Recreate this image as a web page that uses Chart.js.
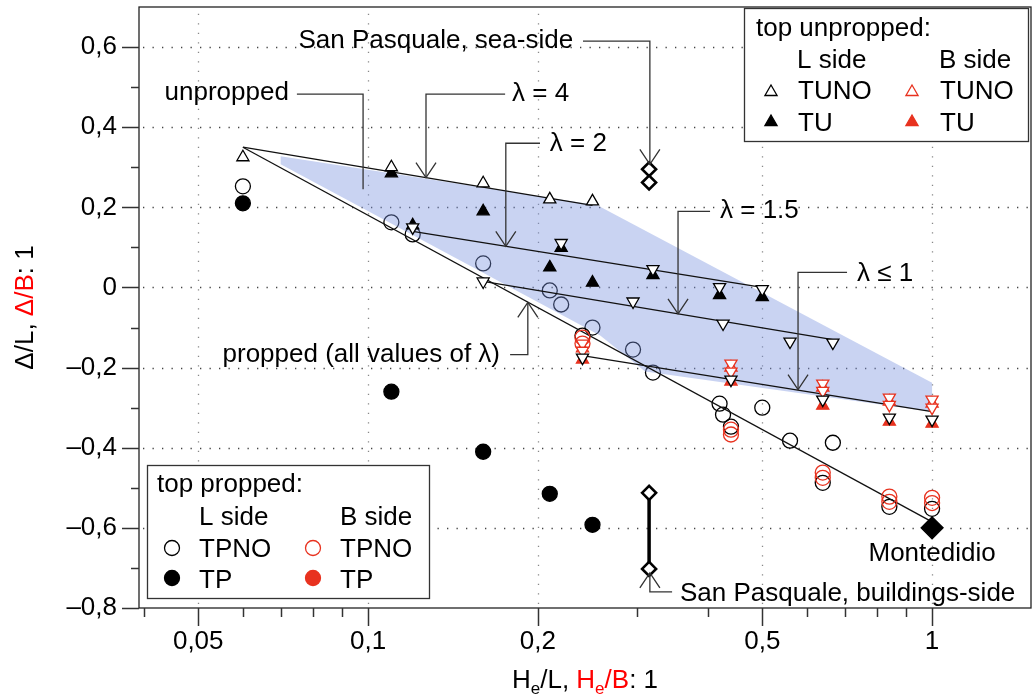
<!DOCTYPE html>
<html>
<head>
<meta charset="utf-8">
<script src="https://cdn.jsdelivr.net/npm/chart.js@4.4.0/dist/chart.umd.min.js"></script>
<style>
  html, body { margin: 0; padding: 0; background: #fff; }
  #wrap { width: 1032px; height: 695px; }
</style>
</head>
<body>
<div id="wrap"><canvas id="chart" width="1032" height="695"></canvas></div>
<script>
// Settlement ratio chart

// top unpropped, L side
const tunoLX = [0.06, 0.11, 0.16, 0.21, 0.25];
const tunoLY = [0.325, 0.30, 0.26, 0.22, 0.215];
const tuLX = [0.11, 0.12, 0.16, 0.21, 0.22, 0.25, 0.32, 0.42, 0.5];
const tuLY = [0.285, 0.155, 0.19, 0.05, 0.099, 0.012, 0.031, -0.019, -0.024];

// model points (inverted triangles)
const modelLX = [0.12, 0.16, 0.22, 0.24, 0.295, 0.32, 0.42, 0.426, 0.44, 0.5, 0.56, 0.64, 0.667, 0.84, 1];
const modelLY = [0.15, 0.015, 0.111, -0.175, -0.035, 0.046, 0.001, -0.09, -0.23, -0.004, -0.135, -0.28, -0.1375, -0.325, -0.33];
const modelBX = [0.24, 0.24, 0.44, 0.44, 0.64, 0.64, 0.84, 0.84, 1, 1];
const modelBY = [-0.14, -0.158, -0.19, -0.21, -0.24, -0.258, -0.275, -0.293, -0.28, -0.30];

// top unpropped, B side
const tunoBX = [0.24, 0.44, 0.64, 0.84, 1];
const tunoBY = [-0.152, -0.2, -0.25, -0.285, -0.29];
const tuBX = [0.24, 0.44, 0.64, 0.84, 1];
const tuBY = [-0.18, -0.235, -0.295, -0.335, -0.34];

// top propped
const tpnoLX = [0.06, 0.11, 0.12, 0.16, 0.21, 0.22, 0.24, 0.25, 0.295, 0.32, 0.42, 0.426, 0.44, 0.5, 0.56, 0.64, 0.667, 0.84, 1];
const tpnoLY = [0.2525, 0.1625, 0.1325, 0.06, -0.0075, -0.0425, -0.12, -0.10, -0.155, -0.2125, -0.29, -0.3175, -0.3475, -0.30, -0.3825, -0.4875, -0.3875, -0.5475, -0.5525];
const tpLX = [0.06, 0.11, 0.16, 0.21, 0.25];
const tpLY = [0.21, -0.26, -0.41, -0.515, -0.5925];
const tpnoBX = [0.24, 0.24, 0.44, 0.44, 0.64, 0.64, 0.84, 0.84, 1, 1];
const tpnoBY = [-0.125, -0.14, -0.355, -0.367, -0.462, -0.475, -0.522, -0.535, -0.525, -0.538];

// field cases
const seaX = [0.315, 0.315];
const seaY = [0.295, 0.262];
const bldX = [0.315, 0.315];
const bldY = [-0.5125, -0.7025];
const monteX = [1];
const monteY = [-0.6];

// model lines
const lam4X = [0.06, 0.25];
const lam4Y = [0.35, 0.205];
const lam2X = [0.12, 0.5];
const lam2Y = [0.14, 0.0];
const lam15X = [0.16, 0.667];
const lam15Y = [0.015, -0.13];
const lam1X = [0.24, 1];
const lam1Y = [-0.17, -0.31];
const proppedX = [0.06, 1];
const proppedY = [0.35, -0.585];

// shaded band outline
const bandX = [0.07, 0.255, 1, 1, 0.31, 0.258, 0.07];
const bandY = [0.3275, 0.205, -0.2375, -0.31, -0.21, -0.12, 0.3075];

// ticks
const xMajor = [0.05, 0.1, 0.2, 0.5, 1];
const xTickLabels = ['0,05', '0,1', '0,2', '0,5', '1'];
const xMinor = [0.04, 0.06, 0.07, 0.08, 0.09, 0.3, 0.4, 0.6, 0.7, 0.8, 0.9];
const yMajor = [-0.8, -0.6, -0.4, -0.2, 0, 0.2, 0.4, 0.6];
const yTickLabels = ['\u20130,8', '\u20130,6', '\u20130,4', '\u20130,2', '0', '0,2', '0,4', '0,6'];
const yMinor = [-0.7, -0.5, -0.3, -0.1, 0.1, 0.3, 0.5];

const RED = '#e8321f';
const FONT = "'Liberation Sans', Arial, Helvetica, sans-serif";
const FS = 26;

const pts = (xs, ys) => xs.map((x, i) => ({ x: x, y: ys[i] }));

// callouts, anchored in data units
const notes = [
    { text: 'San Pasquale, sea-side', at: [0.231, 0.615], align: 'right', path: [[0.2405, 0.615], [0.316, 0.615], [0.316, 0.3075]], arrow: true },
    { text: 'unpropped', at: [0.0724, 0.485], align: 'right', path: [[0.0748, 0.4825], [0.098, 0.4825], [0.098, 0.245]], arrow: false },
    { text: '\u03bb = 4', at: [0.18, 0.4825], align: 'left', path: [[0.175, 0.4825], [0.1267, 0.4825], [0.1267, 0.274]], arrow: true },
    { text: '\u03bb = 2', at: [0.21, 0.3575], align: 'left', path: [[0.2018, 0.36], [0.1755, 0.36], [0.1755, 0.1025]], arrow: true },
    { text: '\u03bb = 1.5', at: [0.4208, 0.1925], align: 'left', path: [[0.404, 0.19], [0.3545, 0.19], [0.3545, -0.066]], arrow: true },
    { text: '\u03bb \u2264 1', at: [0.736, 0.035], align: 'left', path: [[0.7067, 0.0375], [0.5786, 0.0375], [0.5786, -0.255]], arrow: true },
    { text: 'propped (all values of \u03bb)', at: [0.1714, -0.169], align: 'right', path: [[0.1786, -0.1675], [0.192, -0.1675], [0.192, -0.0375]], arrow: true },
    { text: 'San Pasquale, buildings-side', at: [0.3573, -0.7645], align: 'left', path: [[0.346, -0.76], [0.316, -0.76], [0.316, -0.7125]], arrow: true },
    { text: 'Montedidio', at: [1, -0.6637], align: 'center' }
];

function drawMarker(ctx, kind, x, y, r, fill, stroke, lw) {
    ctx.save();
    ctx.beginPath();
    if (kind === 'circle') {
        ctx.arc(x, y, r, 0, Math.PI * 2);
    } else {
        const rot = kind === 'triDown' ? Math.PI : 0;
        for (let k = 0; k < 3; k++) {
            const a = rot + k * 2 * Math.PI / 3;
            const px = x + Math.sin(a) * r, py = y - Math.cos(a) * r;
            if (k) ctx.lineTo(px, py); else ctx.moveTo(px, py);
        }
        ctx.closePath();
    }
    if (fill) { ctx.fillStyle = fill; ctx.fill(); }
    if (stroke) { ctx.lineWidth = lw; ctx.strokeStyle = stroke; ctx.stroke(); }
    ctx.restore();
}

function drawLegend(ctx, spec) {
    const [bx, by, bw, bh] = spec.box;
    ctx.save();
    ctx.fillStyle = '#fff';
    ctx.fillRect(bx, by, bw, bh);
    ctx.lineWidth = 1.3;
    ctx.strokeStyle = '#333';
    ctx.strokeRect(bx + 0.5, by + 0.5, bw, bh);
    ctx.font = FS + 'px ' + FONT;
    ctx.fillStyle = '#000';
    ctx.textBaseline = 'alphabetic';
    ctx.textAlign = 'left';
    spec.texts.forEach(t => ctx.fillText(t[0], t[1], t[2]));
    spec.marks.forEach(m => drawMarker(ctx, m.kind, m.x, m.y, m.r, m.fill, m.stroke, 1.3));
    ctx.restore();
}

const legendTop = {
    box: [744, 8, 284, 133],
    texts: [['top unpropped:', 756, 36], ['L side', 797, 68], ['B side', 939, 68],
            ['TUNO', 798, 99], ['TUNO', 940, 99], ['TU', 798, 131], ['TU', 940, 131]],
    marks: [
        { kind: 'tri', x: 771, y: 92, r: 7, fill: '#fff', stroke: '#000' },
        { kind: 'tri', x: 912, y: 92, r: 7, fill: '#fff', stroke: RED },
        { kind: 'tri', x: 771, y: 122, r: 7, fill: '#000', stroke: '#000' },
        { kind: 'tri', x: 912, y: 122, r: 7, fill: RED, stroke: RED }
    ]
};

const legendBottom = {
    box: [147, 465, 282, 133],
    texts: [['top propped:', 157, 492], ['L side', 199, 525], ['B side', 340, 525],
            ['TPNO', 199, 557], ['TPNO', 340, 557], ['TP', 199, 588], ['TP', 340, 588]],
    marks: [
        { kind: 'circle', x: 172, y: 548, r: 7.5, fill: null, stroke: '#000' },
        { kind: 'circle', x: 313, y: 548, r: 7.5, fill: null, stroke: RED },
        { kind: 'circle', x: 172, y: 578, r: 7.5, fill: '#000', stroke: '#000' },
        { kind: 'circle', x: 313, y: 578, r: 7.5, fill: RED, stroke: RED }
    ]
};

function drawRich(ctx, segs, x, y, align) {
    const big = FS + 'px ' + FONT, small = '17px ' + FONT;
    let w = 0;
    segs.forEach(s => { ctx.font = s.sub ? small : big; w += ctx.measureText(s.t).width; });
    let cx = align === 'center' ? x - w / 2 : x;
    ctx.textAlign = 'left';
    ctx.textBaseline = 'alphabetic';
    segs.forEach(s => {
        ctx.font = s.sub ? small : big;
        ctx.fillStyle = s.c || '#000';
        ctx.fillText(s.t, cx, y + (s.sub ? 6 : 0));
        cx += ctx.measureText(s.t).width;
    });
}

const decor = {
    id: 'decor',
    beforeDatasetsDraw(chart) {
        const { ctx, chartArea: a, scales } = chart;
        ctx.save();
        ctx.lineWidth = 1.3;
        ctx.setLineDash([1.3, 8.2]);
        ctx.strokeStyle = '#444';
        yMajor.filter(v => v > -0.8).forEach(v => {
            const y = Math.round(scales.y.getPixelForValue(v)) + 0.5;
            ctx.beginPath(); ctx.moveTo(a.left + 4, y); ctx.lineTo(a.right, y); ctx.stroke();
        });
        ctx.strokeStyle = '#888';
        xMajor.forEach(v => {
            const x = Math.round(scales.x.getPixelForValue(v)) + 0.5;
            ctx.beginPath(); ctx.moveTo(x, a.bottom - 4); ctx.lineTo(x, a.top); ctx.stroke();
        });
        ctx.restore();
    },
    afterDatasetDraw(chart, args) {
        // band goes right after the L-side TPNO circles, so they sit under it
        if (args.index !== 0) return;
        const { ctx, scales } = chart;
        ctx.save();
        ctx.beginPath();
        bandX.forEach((v, i) => {
            const px = scales.x.getPixelForValue(v), py = scales.y.getPixelForValue(bandY[i]);
            if (i) ctx.lineTo(px, py); else ctx.moveTo(px, py);
        });
        ctx.closePath();
        ctx.fillStyle = 'rgba(120, 145, 222, 0.4)';
        ctx.fill();
        ctx.restore();
    },
    afterDraw(chart) {
        const { ctx, chartArea: a, scales } = chart;
        ctx.save();
        // frame
        ctx.lineWidth = 1.3;
        ctx.strokeStyle = '#222';
        ctx.strokeRect(a.left, a.top, a.right - a.left, a.bottom - a.top);
        // tick marks
        ctx.strokeStyle = '#333';
        ctx.lineWidth = 1.5;
        const yt = (v, len) => {
            const y = Math.round(scales.y.getPixelForValue(v)) + 0.5;
            ctx.beginPath(); ctx.moveTo(a.left - len, y); ctx.lineTo(a.left, y); ctx.stroke();
        };
        yMajor.forEach(v => yt(v, 17));
        yMinor.forEach(v => yt(v, 8));
        const xt = (v, len) => {
            const x = Math.round(scales.x.getPixelForValue(v)) + 0.5;
            ctx.beginPath(); ctx.moveTo(x, a.bottom); ctx.lineTo(x, a.bottom + len); ctx.stroke();
        };
        xMajor.forEach(v => xt(v, 18));
        xMinor.forEach(v => xt(v, 9));

        // callouts
        ctx.font = FS + 'px ' + FONT;
        ctx.textBaseline = 'middle';
        notes.forEach(n => {
            ctx.fillStyle = '#000';
            ctx.textAlign = n.align;
            ctx.fillText(n.text, scales.x.getPixelForValue(n.at[0]), scales.y.getPixelForValue(n.at[1]));
            if (!n.path) return;
            const p = n.path.map(q => [scales.x.getPixelForValue(q[0]), scales.y.getPixelForValue(q[1])]);
            ctx.strokeStyle = '#333';
            ctx.lineWidth = 1.3;
            ctx.beginPath();
            p.forEach((q, i) => i ? ctx.lineTo(q[0], q[1]) : ctx.moveTo(q[0], q[1]));
            ctx.stroke();
            if (n.arrow) {
                const [x1, y1] = p[p.length - 2], [x2, y2] = p[p.length - 1];
                const ang = Math.atan2(y2 - y1, x2 - x1);
                const L = 18, h = 0.59;
                ctx.beginPath();
                ctx.moveTo(x2 - L * Math.cos(ang - h), y2 - L * Math.sin(ang - h));
                ctx.lineTo(x2, y2);
                ctx.lineTo(x2 - L * Math.cos(ang + h), y2 - L * Math.sin(ang + h));
                ctx.stroke();
            }
        });

        drawLegend(ctx, legendTop);
        drawLegend(ctx, legendBottom);

        // axis titles
        drawRich(ctx, [{ t: 'H' }, { t: 'e', sub: true }, { t: '/L, ' }, { t: 'H', c: '#f00' },
                       { t: 'e', sub: true, c: '#f00' }, { t: '/B', c: '#f00' }, { t: ': 1' }],
                 (a.left + a.right) / 2, 688, 'center');
        ctx.save();
        ctx.translate(33, (a.top + a.bottom) / 2);
        ctx.rotate(-Math.PI / 2);
        drawRich(ctx, [{ t: '\u0394/L, ' }, { t: '\u0394/B', c: '#f00' }, { t: ': 1' }], 0, 0, 'center');
        ctx.restore();
        ctx.restore();
    }
};

const open = (label, xs, ys, style, color, extra) => Object.assign({
    label: label,
    data: pts(xs, ys),
    showLine: false,
    pointStyle: style,
    pointRadius: 7,
    pointBorderWidth: 1.3,
    pointBorderColor: color,
    pointBackgroundColor: '#fff'
}, extra || {});

const line = (label, xs, ys) => ({
    label: label,
    data: pts(xs, ys),
    showLine: true,
    borderColor: '#111',
    borderWidth: 1.3,
    pointRadius: 0,
    order: 15
});

new Chart(document.getElementById('chart'), {
    type: 'scatter',
    data: {
        datasets: [
            open('TPNO L', tpnoLX, tpnoLY, 'circle', '#000', { pointRadius: 7.5, pointBackgroundColor: 'rgba(0,0,0,0)', order: 20 }),
            line('propped', proppedX, proppedY),
            line('lambda 4', lam4X, lam4Y),
            line('lambda 2', lam2X, lam2Y),
            line('lambda 1.5', lam15X, lam15Y),
            line('lambda 1', lam1X, lam1Y),
            open('TPNO B', tpnoBX, tpnoBY, 'circle', RED, { pointRadius: 7.5, pointBackgroundColor: 'rgba(0,0,0,0)', order: 12 }),
            open('TP L', tpLX, tpLY, 'circle', '#000', { pointRadius: 7.5, pointBackgroundColor: '#000', order: 12 }),
            open('TU B', tuBX, tuBY, 'triangle', RED, { pointBackgroundColor: RED, order: 11 }),
            open('TUNO B', tunoBX, tunoBY, 'triangle', RED, { order: 10 }),
            open('model B', modelBX, modelBY, 'triangle', RED, { pointRotation: 180, order: 9 }),
            open('TU L', tuLX, tuLY, 'triangle', '#000', { pointBackgroundColor: '#000', order: 8 }),
            open('TUNO L', tunoLX, tunoLY, 'triangle', '#000', { order: 7 }),
            open('model L', modelLX, modelLY, 'triangle', '#000', { pointRotation: 180, order: 6 }),
            open('San Pasquale sea', seaX, seaY, 'rectRot', '#000', { pointBorderWidth: 2.6, order: 3 }),
            open('San Pasquale buildings', bldX, bldY, 'rectRot', '#000', {
                showLine: true, borderColor: '#000', borderWidth: 3.5, pointBorderWidth: 2.6, order: 3
            }),
            open('Montedidio', monteX, monteY, 'rectRot', '#000', { pointRadius: 11, pointBackgroundColor: '#000', order: 2 })
        ]
    },
    options: {
        responsive: false,
        animation: false,
        devicePixelRatio: 1,
        events: [],
        layout: { autoPadding: false, padding: { top: 7, right: 1, left: 0, bottom: 0 } },
        plugins: {
            legend: { display: false },
            tooltip: { enabled: false }
        },
        scales: {
            x: {
                type: 'logarithmic',
                min: 0.03926,
                max: 1.4976,
                afterBuildTicks: (s) => {
                    s.ticks = xMajor.concat(xMinor).sort((p, q) => p - q).map(v => ({ value: v }));
                },
                afterFit: (s) => {
                    s.height = 87;
                    s.paddingLeft = 0;
                    s.paddingRight = 0;
                },
                ticks: {
                    autoSkip: false,
                    maxRotation: 0,
                    padding: 0,
                    color: '#000',
                    font: { family: FONT, size: FS },
                    callback: (v) => {
                        const i = xMajor.findIndex(m => Math.abs(m - v) < 1e-9);
                        return i < 0 ? '' : xTickLabels[i];
                    }
                },
                grid: { color: 'rgba(0,0,0,0)', tickColor: 'rgba(0,0,0,0)', tickLength: 18 },
                border: { display: false }
            },
            y: {
                type: 'linear',
                min: -0.8,
                max: 0.7,
                afterBuildTicks: (s) => {
                    s.ticks = yMajor.concat(yMinor).sort((p, q) => p - q).map(v => ({ value: v }));
                },
                afterFit: (s) => {
                    s.width = 139;
                    s.paddingTop = 0;
                    s.paddingBottom = 0;
                },
                ticks: {
                    autoSkip: false,
                    padding: 5,
                    color: '#000',
                    font: { family: FONT, size: FS },
                    callback: (v) => {
                        const i = yMajor.findIndex(m => Math.abs(m - v) < 1e-6);
                        return i < 0 ? '' : yTickLabels[i];
                    }
                },
                grid: { color: 'rgba(0,0,0,0)', tickColor: 'rgba(0,0,0,0)', tickLength: 17 },
                border: { display: false }
            }
        }
    },
    plugins: [decor]
});
</script>
</body>
</html>
